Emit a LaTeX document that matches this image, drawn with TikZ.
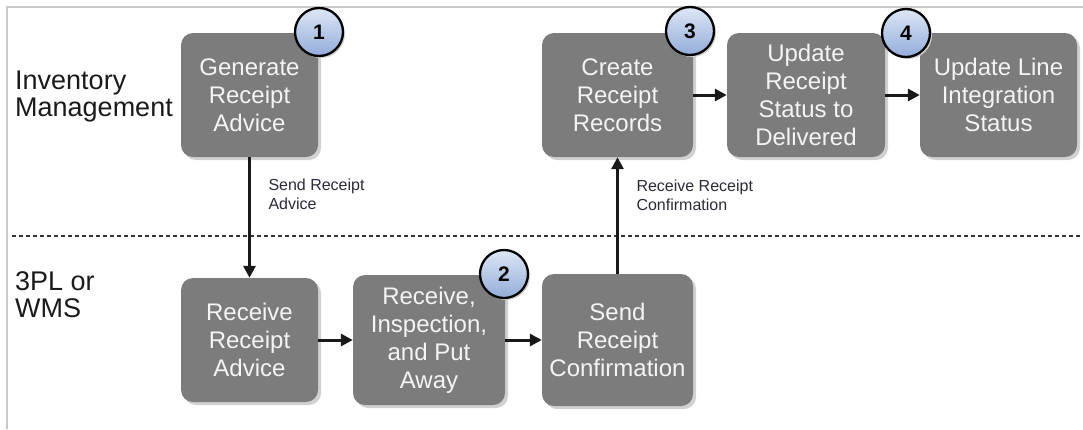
\documentclass[tikz,border=0pt]{standalone}
\usepackage{fontspec}
\setmainfont{Liberation Sans}
\usetikzlibrary{shadows,arrows.meta}
\definecolor{boxgray}{HTML}{7C7C7C}
\definecolor{boxtext}{HTML}{F4F4F4}
\definecolor{framegray}{HTML}{C8C8C8}
\definecolor{circtop}{HTML}{DDE7F6}
\definecolor{circbot}{HTML}{93ACD9}
\definecolor{lanetext}{HTML}{1A1A1A}
\definecolor{lbltext}{HTML}{2A2A3A}
\begin{document}
\begin{tikzpicture}[x=1pt,y=-1pt,
  stepbox/.style={rectangle, rounded corners=12pt, fill=boxgray, text=boxtext,
    inner sep=0pt, align=center, font=\fontsize{24}{28}\selectfont,
    drop shadow={shadow xshift=3pt, shadow yshift=-3pt, fill=black!18, opacity=1}},
  badge/.style={circle, draw=black, line width=2.3pt, top color=circtop, bottom color=circbot,
    minimum size=48pt, inner sep=0pt, font=\fontsize{21}{21}\selectfont\bfseries, text=black,
    drop shadow={shadow xshift=2pt, shadow yshift=-2pt, fill=black!18, opacity=1}},
  lane/.style={inner sep=0pt, align=left, text=lanetext, font=\fontsize{27}{27}\selectfont},
  lbl/.style={inner sep=0pt, align=left, text=lbltext, font=\fontsize{16}{19}\selectfont},
  arr/.style={line width=3pt, draw=black!90, -{Triangle[length=12pt,width=12pt]}}
]
\useasboundingbox (0,0) rectangle (1083,429);
% frame
\draw[framegray, line width=1.5pt] (7,429) -- (7,7) -- (1083,7);
% lane divider
\draw[black!80, line width=2pt, dash pattern=on 4pt off 3pt] (12,236) -- (1083,236);
% lane labels
\node[lane, anchor=north west] (lim) at (15,71) {Inventory\\Management};
\node[lane, anchor=north west] (lwms) at (15,271) {3PL or\\WMS};
% boxes
\node[stepbox, minimum width=137pt, minimum height=124pt] (gra) at (249.5,95) {Generate\\Receipt\\Advice};
\node[stepbox, minimum width=151pt, minimum height=124pt] (crr) at (617.5,95) {Create\\Receipt\\Records};
\node[stepbox, minimum width=158pt, minimum height=124pt] (upd) at (806,95) {Update\\Receipt\\Status to\\Delivered};
\node[stepbox, minimum width=157pt, minimum height=124pt] (uli) at (998.5,95) {Update Line\\Integration\\Status};
\node[stepbox, minimum width=137pt, minimum height=124pt] (rra) at (249.5,340) {Receive\\Receipt\\Advice};
\node[stepbox, minimum width=152pt, minimum height=130pt] (rip) at (429,340) {Receive,\\Inspection,\\and Put\\Away};
\node[stepbox, minimum width=151pt, minimum height=132pt] (src) at (617.5,340) {Send\\Receipt\\Confirmation};
% connectors
\draw[arr] (gra) -- node[lbl, anchor=west, xshift=17.5pt, pos=0.306] (l1) {Send Receipt\\Advice} (rra);
\draw[arr] (src) -- node[lbl, anchor=west, xshift=17.5pt, pos=0.675] (l2) {Receive Receipt\\Confirmation} (crr);
\draw[arr] (crr) -- (upd);
\draw[arr] (upd) -- (uli);
\draw[arr] (rra) -- (rip);
\draw[arr] (rip) -- (src);
% badges
\node[badge] (b1) at (319,32) {1};
\node[badge] (b2) at (504,274) {2};
\node[badge] (b3) at (690,31) {3};
\node[badge] (b4) at (906,33) {4};
\end{tikzpicture}
\end{document}
